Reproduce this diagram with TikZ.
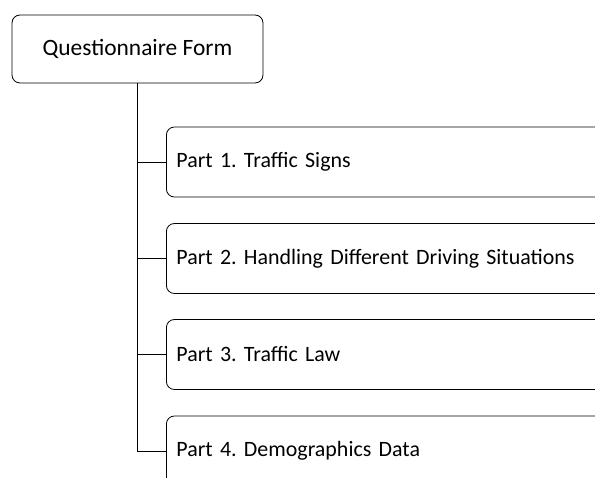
\documentclass[tikz,border=0pt]{standalone}
\usepackage{fontspec}
\setmainfont{Carlito}
\frenchspacing

\begin{document}
\begin{tikzpicture}[x=1bp,y=-1bp,
  formbox/.style={draw, rounded corners=8bp, line width=0.8pt, minimum width=251bp, minimum height=68bp, font=\fontsize{23.5}{28}\selectfont},
  partbox/.style={draw, rounded corners=8bp, line width=0.8pt, text width=430bp, inner xsep=10bp, minimum height=70bp, align=left, font=\fontsize{22}{26}\selectfont, anchor=west}]
\useasboundingbox (0,0) rectangle (595,478);
\clip (0,0) rectangle (595,478);
\node[formbox](form) at (137.5,49){Questionnaire Form};
\node[partbox](p1) at (166,162){Part 1. Traffic Signs};
\node[partbox](p2) at (166,258.5){Part 2. Handling Different Driving Situations};
\node[partbox](p3) at (166,354.5){Part 3. Traffic Law};
\node[partbox](p4) at (166,451){Part 4. Demographics Data};
\draw[line width=0.8pt] (form.south)|-(p1.west) (form.south)|-(p2.west) (form.south)|-(p3.west) (form.south)|-(p4.west);
\end{tikzpicture}
\end{document}
